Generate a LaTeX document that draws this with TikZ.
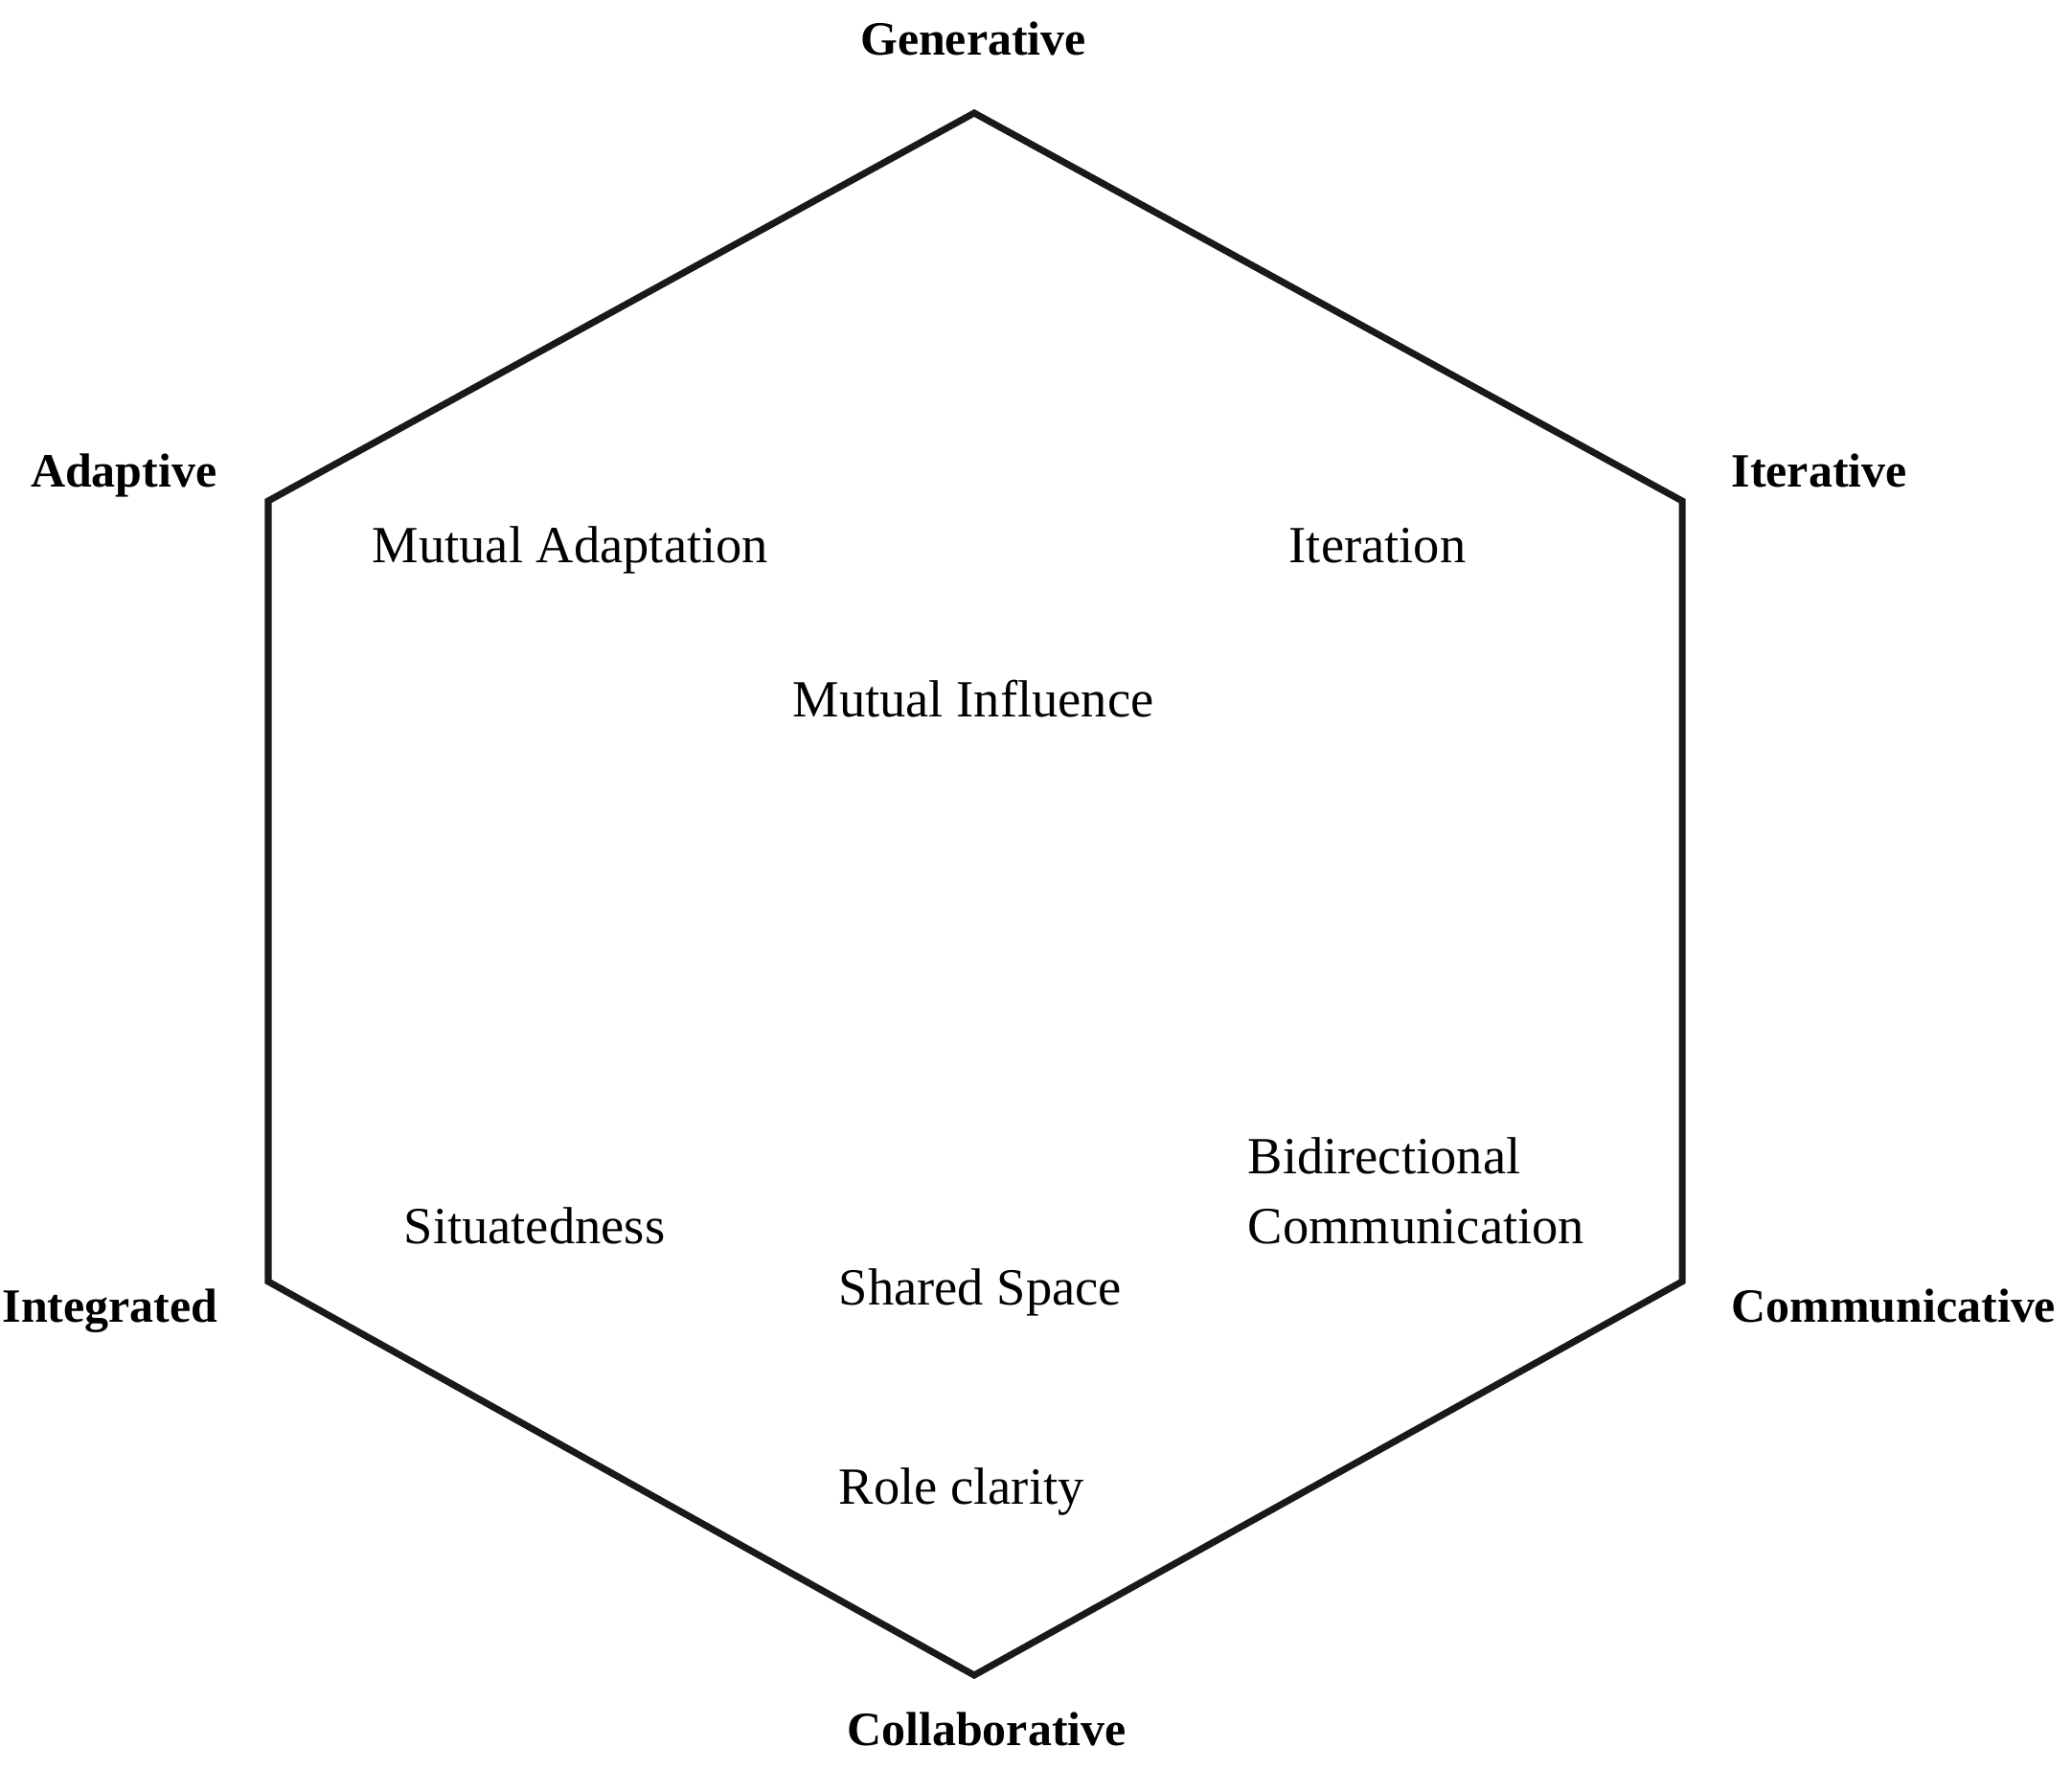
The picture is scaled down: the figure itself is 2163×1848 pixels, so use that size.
\documentclass[tikz,border=0pt]{standalone}
\usepackage{fontspec}
\setmainfont{Liberation Serif}

\begin{document}
\begin{tikzpicture}[x=0.01cm,y=-0.01cm,
  corner/.style={font=\fontsize{14.2}{17}\selectfont\bfseries,inner sep=0pt},
  quality/.style={font=\fontsize{15.5}{19}\selectfont,inner sep=0pt,anchor=base west}]
\useasboundingbox (0,0) rectangle (2163,1848);
\coordinate (gen) at (1017,118);
\coordinate (ite) at (1756,523);
\coordinate (com) at (1756,1338);
\coordinate (col) at (1017,1749);
\coordinate (int) at (280,1338);
\coordinate (ada) at (280,523);
\draw[line width=2pt,color=black!90,line join=miter] (gen) -- (ite) -- (com) -- (col) -- (int) -- (ada) -- cycle;
\node[corner,anchor=base] (generative) at (1016,57) {Generative};
\node[corner,anchor=base east] (adaptive) at (227,508) {Adaptive};
\node[corner,anchor=base west] (iterative) at (1807,508) {Iterative};
\node[corner,anchor=base east] (integrated) at (228,1380) {Integrated};
\node[corner,anchor=base west] (communicative) at (1807,1380) {Communicative};
\node[corner,anchor=base] (collaborative) at (1030,1822) {Collaborative};
\node[quality] (adaptation) at (388,587) {Mutual Adaptation};
\node[quality] (iteration) at (1345,587) {Iteration};
\node[quality,anchor=base] (influence) at (1016,748) {Mutual Influence};
\node[quality] (bidir) at (1302,1225) {Bidirectional};
\node[quality] (communication) at (1302,1298) {Communication};
\node[quality] (situated) at (421,1298) {Situatedness};
\node[quality] (shared) at (875,1362) {Shared Space};
\node[quality] (role) at (875,1570) {Role clarity};
\end{tikzpicture}
\end{document}
